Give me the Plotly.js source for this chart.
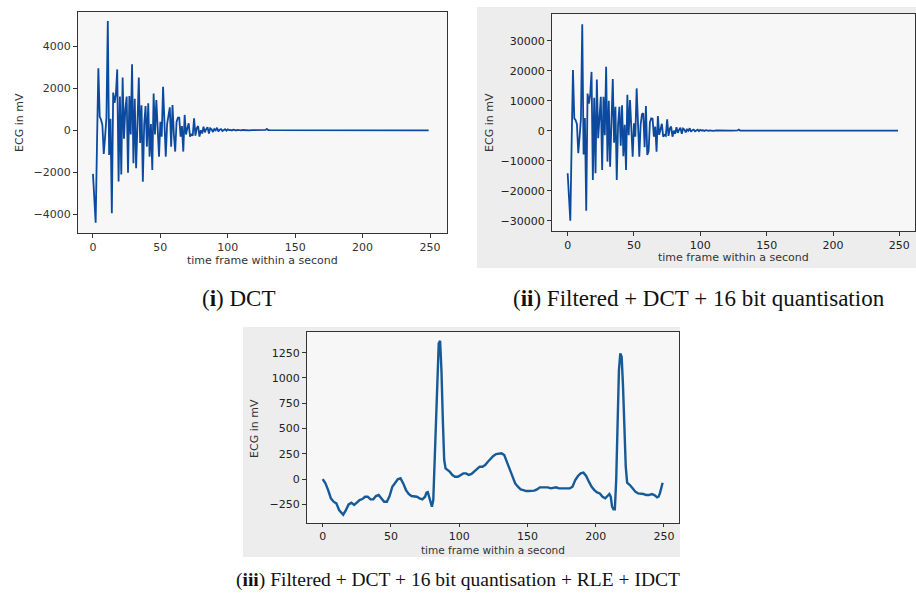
<!DOCTYPE html>
<html>
<head>
<meta charset="utf-8">
<script src="https://cdn.plot.ly/plotly-3.0.1.min.js"></script>
<style>html,body{margin:0;padding:0;background:#fff;}#chart{width:916px;height:601px;}</style>
</head>
<body>
<div id="chart"></div>
<script>
// ---------- DATA ----------
// (i) DCT coefficients, indices 0..104, then sparse tail
const dctHead = [-2070,-3200,-4380,-600,2940,650,500,250,-1120,-300,
  600,5190,-1170,550,-3940,1790,1300,1700,2890,-2430,
  1600,-2100,2510,-400,1000,1600,-2010,1630,-200,3130,
  -1560,1500,-1800,300,2500,-600,1190,-2440,300,1150,
  -775,1280,-1250,300,-1880,1750,-200,1440,200,-1250,
  400,-300,2070,100,-1250,300,800,1090,-775,1200,
  -200,-1010,400,600,600,-300,200,-1010,730,-200,
  100,330,-300,-200,-250,570,-250,100,200,-300,
  0,-150,170,-100,50,150,-150,100,50,-80,
  60,0,120,-50,30,60,-30,20,50,-20,
  40,10,20,-10,30];
const dctTailX = [105,106,107,108,109,110,111,112,114,116,118,120,122,124,126,128,129,130,131,135,140,160,180,200,220,249];
const dctTailY = [15,-10,20,5,10,-5,15,5,10,-5,10,5,5,5,5,20,70,10,5,5,0,0,0,0,0,0];

// (ii) Filtered + DCT + 16 bit quantisation
const qHead = [-14200,-22000,-30000,-4000,20200,4100,3500,2200,-7500,-2000,
  4000,35500,-7900,4200,-26700,12400,9000,12000,19600,-16400,
  11000,-14200,17100,-2500,7000,11300,-13100,11300,-1500,21300,
  -10300,10000,-12000,2000,17200,-4000,8000,-16400,2000,8000,
  -5000,8500,-8500,2000,-13100,12000,-1500,10200,1500,-8700,
  2500,-2000,14100,500,-8700,2000,5500,5800,-5500,8200,
  -8100,-6900,2800,4100,4000,-2000,1400,-7000,4900,-1400,
  700,2300,-2000,-1400,-1700,3800,-1700,700,1400,-2000,
  0,-1000,1200,-700,350,1000,-1000,700,350,-550,
  400,0,800,-350,200,400,-200,150,350,-150,
  280,70,140,-70,200];
const qTailX = [105,106,107,108,109,110,112,114,116,118,120,124,128,129,130,131,135,140,160,180,200,220,249];
const qTailY = [100,-60,120,30,60,-30,80,30,50,20,30,20,80,400,60,20,20,0,0,0,0,0,0];

// (iii) Reconstructed ECG after RLE + IDCT
const ecgX = [0,2,4,6,8,10,12,14,15,17,19,21,23,25,27,29,31,33,35,37,39,41,43,45,47,49,
  51,53,55,57,59,61,63,65,67,69,71,73,75,76,77,78,79,80,81,82,83,84,85,86,87,88,89,90,91,
  93,95,97,99,101,103,105,107,109,111,113,115,117,119,121,123,125,127,129,131,133,135,137,139,
  141,143,145,147,149,151,153,155,157,159,161,163,165,167,169,171,173,175,177,179,181,183,185,
  187,189,191,193,195,197,199,201,203,205,207,209,210,211,212,213,214,215,216,217,218,219,220,
  221,222,223,224,225,227,229,231,233,235,237,239,241,243,245,246,247,248,249];
const ecgY = [0,-43,-109,-191,-224,-241,-307,-346,-353,-307,-251,-234,-257,-234,-208,-198,-175,-175,-201,-201,-168,-158,-191,-224,-224,-168,
  -76,-36,-3,7,-43,-109,-148,-168,-168,-175,-191,-201,-175,-135,-129,-175,-241,-274,-208,188,683,1111,1342,1369,1072,584,188,106,96,
  73,40,23,23,40,56,56,40,50,73,96,122,122,139,171,204,228,247,254,254,237,171,89,23,
  -43,-76,-102,-109,-119,-119,-115,-115,-102,-82,-82,-82,-82,-92,-86,-82,-92,-92,-92,-92,-92,-76,-10,
  30,56,63,30,-26,-76,-109,-132,-142,-175,-191,-168,-148,-175,-274,-300,-300,-10,584,1078,1243,1210,914,
  452,122,-36,-53,-59,-92,-125,-142,-142,-148,-158,-158,-148,-158,-181,-175,-142,-76,-36];

const xTicks = [0,50,100,150,200,250];
const y1Ticks = [-4000,-2000,0,2000,4000];
const y2Ticks = [-30000,-20000,-10000,0,10000,20000,30000];
const y3Ticks = [-250,0,250,500,750,1000,1250];

const xTitle = 'time frame within a second';
const yTitle = 'ECG in mV';

// ---------- LAYOUT ----------
const W = 916, H = 601;
const px = v => v / W;
const py = v => 1 - v / H;

const idx = dctHead.map((_, i) => i);
const idx2 = qHead.map((_, i) => i);

const traces = [
  {x: idx.concat(dctTailX), y: dctHead.concat(dctTailY), xaxis:'x', yaxis:'y', type:'scatter', mode:'lines',
   line:{color:'#0b4a9e', width:1.8}, hoverinfo:'skip'},
  {x: idx2.concat(qTailX), y: qHead.concat(qTailY), xaxis:'x2', yaxis:'y2', type:'scatter', mode:'lines',
   line:{color:'#0b4a9e', width:1.8}, hoverinfo:'skip'},
  {x: ecgX, y: ecgY, xaxis:'x3', yaxis:'y3', type:'scatter', mode:'lines',
   line:{color:'#175a98', width:2.4}, hoverinfo:'skip'}
];

const tickFont = {family:'DejaVu Sans, sans-serif', size:11, color:'#333'};
const tickFontB = {family:'DejaVu Sans, sans-serif', size:11, color:'#222'};

function ax(domain, range, tickvals, font, anchor, len) {
  return {domain, range, tickvals, ticktext: tickvals.map(v => v < 0 ? '\u2212' + Math.abs(v) : String(v)),
    showline:true, mirror:true, linecolor:'#333', linewidth:1, ticks:'outside', ticklen:len || 4,
    tickcolor:'#333', tickwidth:1, showgrid:false, zeroline:false, tickfont:font, anchor, fixedrange:true};
}

const p1 = {l:78, r:447, t:12, b:233};
const p2 = {l:552, r:915, t:14, b:231};
const p3 = {l:307, r:679, t:332, b:523};

function rect(x0, x1, y0, y1, fill) {
  return {type:'rect', xref:'paper', yref:'paper', x0:px(x0), x1:px(x1), y0:py(y1), y1:py(y0),
    fillcolor:fill, line:{width:0}, layer:'below'};
}

const axTitleFont = {family:'DejaVu Sans, sans-serif', size:11, color:'#333'};
const axTitleFont3 = {family:'DejaVu Sans, sans-serif', size:10.5, color:'#333'};
const capFontA = {family:'Liberation Serif, Times New Roman, serif', size:23, color:'#111'};
const capFontB = {family:'Liberation Serif, Times New Roman, serif', size:19.5, color:'#111'};

function ann(text, x, y, font, angle) {
  return {text, x:px(x), y:py(y), xref:'paper', yref:'paper', showarrow:false, font,
    textangle: angle || 0, xanchor:'center', yanchor:'middle'};
}

const layout = {
  width: W, height: H,
  margin: {l:0, r:0, t:0, b:0},
  paper_bgcolor: '#ffffff',
  plot_bgcolor: 'rgba(0,0,0,0)',
  showlegend: false,
  xaxis: ax([px(p1.l), px(p1.r)], [-11.1, 262.6], xTicks, tickFont, 'y'),
  yaxis: ax([py(p1.b), py(p1.t)], [-4873, 5613], y1Ticks, tickFont, 'x'),
  xaxis2: ax([px(p2.l), px(p2.r)], [-11.8, 261.8], xTicks, tickFontB, 'y2'),
  yaxis2: ax([py(p2.b), py(p2.t)], [-33430, 38900], y2Ticks, tickFontB, 'x2'),
  xaxis3: ax([px(p3.l), px(p3.r)], [-11.5, 261], xTicks, tickFontB, 'y3', 3),
  yaxis3: ax([py(p3.b), py(p3.t)], [-435, 1455], y3Ticks, tickFontB, 'x3'),
  shapes: [
    rect(477, 916, 7, 268, '#ededed'),
    rect(243, 680, 327, 557, '#ededed'),
    rect(p1.l, p1.r, p1.t, p1.b, '#f7f7f7'),
    rect(p2.l, p2.r, p2.t, p2.b, '#f7f7f7'),
    rect(p3.l, p3.r, p3.t, p3.b, '#f7f7f7')
  ],
  annotations: [
    ann(yTitle, 19, 123, axTitleFont, -90),
    ann(xTitle, 262, 260, axTitleFont),
    ann(yTitle, 489, 123, axTitleFont, -90),
    ann(xTitle, 733, 257, axTitleFont),
    ann(yTitle, 254, 428, axTitleFont, -90),
    ann(xTitle, 493, 550, axTitleFont3),
    ann('(<b>i</b>) DCT', 238, 298, capFontA),
    ann('(<b>ii</b>) Filtered + DCT + 16 bit quantisation', 699, 298, capFontA),
    ann('(<b>iii</b>) Filtered + DCT + 16 bit quantisation + RLE + IDCT', 458, 580, capFontB)
  ]
};

Plotly.newPlot('chart', traces, layout, {staticPlot:true, displayModeBar:false});
</script>
</body>
</html>
